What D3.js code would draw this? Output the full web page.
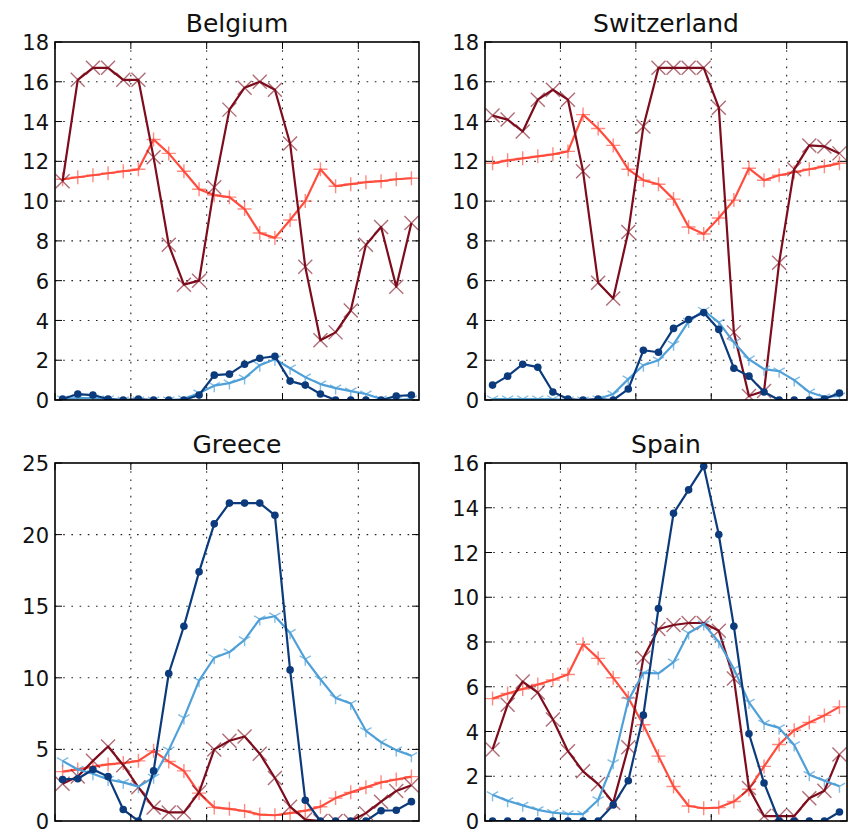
<!DOCTYPE html>
<html><head><meta charset="utf-8">
<script src="https://cdn.jsdelivr.net/npm/d3@7"></script>
<style>body{margin:0;background:#fff} svg{display:block}</style>
</head><body><svg id="c" width="850" height="833"></svg>
<script>
const countries = ["Belgium", "Switzerland", "Greece", "Spain"];
const hours = [0.5,1.5,2.5,3.5,4.5,5.5,6.5,7.5,8.5,9.5,10.5,11.5,12.5,13.5,14.5,15.5,16.5,17.5,18.5,19.5,20.5,21.5,22.5,23.5];
const xTicks = [0, 5, 10, 15, 20];
const yTicksBelgium = [0,2,4,6,8,10,12,14,16,18];
const yTicksSwitzerland = [0,2,4,6,8,10,12,14,16,18];
const yTicksGreece = [0,5,10,15,20,25];
const yTicksSpain = [0,2,4,6,8,10,12,14,16];

const belgiumDarkBlue = [0.05,0.3,0.25,0.05,0,0.05,0,0,0,0.25,1.25,1.3,1.8,2.1,2.2,0.95,0.75,0.3,0,0,0,0,0.2,0.25];
const belgiumLightBlue = [0.05,0.1,0.1,0.05,0,0,0,0,0.05,0.35,0.72,0.85,1.1,1.75,2.05,1.6,1.15,0.8,0.6,0.45,0.3,0.05,0,0.05];
const belgiumRed = [11.1,11.2,11.3,11.4,11.5,11.6,13.1,12.4,11.5,10.6,10.3,10.2,9.6,8.4,8.15,9.05,10.0,11.6,10.75,10.85,10.95,11.0,11.1,11.15];
const belgiumDarkRed = [11.0,16.1,16.7,16.7,16.1,16.1,12.2,7.8,5.8,6.0,10.7,14.6,15.7,16.0,15.6,12.9,6.7,3.0,3.4,4.5,7.8,8.7,5.7,8.9];

const switzerlandDarkBlue = [0.75,1.2,1.8,1.65,0.4,0.05,0,0.05,0,0.55,2.5,2.4,3.6,4.05,4.4,3.55,1.6,1.2,0.4,0,0,0,0.05,0.35];
const switzerlandLightBlue = [0.05,0.05,0.05,0.05,0.05,0,0,0.05,0.3,1.05,1.75,2.0,2.8,3.95,4.5,3.9,2.9,2.05,1.55,1.45,1.0,0.4,0.15,0.2];
const switzerlandRed = [11.9,12.05,12.15,12.25,12.35,12.5,14.35,13.65,12.8,11.6,11.05,10.85,10.1,8.7,8.35,9.15,10.05,11.65,11.05,11.3,11.45,11.6,11.75,11.9];
const switzerlandDarkRed = [14.3,14.1,13.5,15.1,15.6,15.1,11.5,5.9,5.1,8.45,13.75,16.7,16.7,16.7,16.7,14.7,3.4,0.2,0.45,6.9,11.6,12.8,12.75,12.4];

const greeceDarkBlue = [2.9,2.95,3.6,3.1,0.8,0,3.5,10.3,13.6,17.4,20.75,22.2,22.2,22.2,21.35,10.55,1.45,0,0,0,0,0.72,0.75,1.35];
const greeceLightBlue = [4.2,3.6,3.3,2.9,2.7,2.4,3.05,4.95,7.2,9.8,11.4,11.8,12.65,14.1,14.3,13.15,11.3,9.9,8.6,8.2,6.3,5.5,4.95,4.55];
const greeceRed = [3.45,3.6,3.8,3.95,4.05,4.2,4.9,4.15,3.5,1.95,0.95,0.85,0.7,0.45,0.4,0.55,0.72,1.0,1.6,2.0,2.35,2.7,2.9,3.1];
const greeceDarkRed = [2.6,3.1,4.2,5.2,3.9,2.35,0.95,0.6,0.6,2.0,5.0,5.6,5.9,4.7,3.0,1.0,0.1,0,0,0,0.55,1.35,2.1,2.5];

const spainDarkBlue = [0,0,0,0,0,0,0,0,0.72,1.8,4.73,9.5,13.75,14.8,15.85,12.8,8.7,3.9,1.7,0,0,0,0,0.4];
const spainLightBlue = [1.17,0.9,0.7,0.5,0.37,0.32,0.31,0.94,2.6,5.4,6.62,6.6,7.1,8.4,8.8,8.0,6.8,5.3,4.36,4.16,3.4,2.07,1.8,1.55];
const spainRed = [5.47,5.7,5.9,6.1,6.3,6.55,7.9,7.27,6.4,5.5,4.3,2.9,1.54,0.67,0.57,0.6,0.87,1.42,2.44,3.42,4.06,4.4,4.72,5.1];
const spainDarkRed = [3.2,5.2,6.23,5.74,4.54,3.12,2.22,1.65,0.82,3.3,7.3,8.58,8.76,8.85,8.85,8.5,6.37,1.47,0.22,0.22,0.22,1.02,1.35,2.97];

const colors = {darkBlue: "#0b3b7c", lightBlue: "#4fa0d8", red: "#ff4d3d", darkRed: "#7d0d1d"};

const panelData = {
  Belgium: {ticks: yTicksBelgium, series: [belgiumRed, belgiumDarkRed, belgiumLightBlue, belgiumDarkBlue]},
  Switzerland: {ticks: yTicksSwitzerland, series: [switzerlandRed, switzerlandDarkRed, switzerlandLightBlue, switzerlandDarkBlue]},
  Greece: {ticks: yTicksGreece, series: [greeceRed, greeceDarkRed, greeceLightBlue, greeceDarkBlue]},
  Spain: {ticks: yTicksSpain, series: [spainRed, spainDarkRed, spainLightBlue, spainDarkBlue]}
};
const seriesStyle = [
  {color: colors.red, marker: "plus"},
  {color: colors.darkRed, marker: "x"},
  {color: colors.lightBlue, marker: "tri"},
  {color: colors.darkBlue, marker: "circle"}
];

const layout = [
  {x0: 55, x1: 419, y0: 42, y1: 400},
  {x0: 485, x1: 847, y0: 42, y1: 400},
  {x0: 55, x1: 419, y0: 463, y1: 821},
  {x0: 485, x1: 847, y0: 463, y1: 821}
];

const svg = d3.select("#c");
const font = "DejaVu Sans, sans-serif";

countries.forEach((name, pi) => {
  const L = layout[pi];
  const pd = panelData[name];
  const ymax = pd.ticks[pd.ticks.length - 1];
  const x = d3.scaleLinear().domain([0, 24]).range([L.x0, L.x1]);
  const y = d3.scaleLinear().domain([0, ymax]).range([L.y1, L.y0]);
  const g = svg.append("g");
  const clipId = "clip" + pi;
  svg.append("defs").append("clipPath").attr("id", clipId)
    .append("rect").attr("x", L.x0).attr("y", L.y0).attr("width", L.x1 - L.x0).attr("height", L.y1 - L.y0);

  // grid
  const grid = g.append("g").attr("stroke", "#222").attr("stroke-width", 1.1).attr("stroke-dasharray", "1.6,6.6");
  xTicks.filter(t => t > 0).forEach(t => {
    grid.append("line").attr("x1", x(t)).attr("x2", x(t)).attr("y1", L.y0).attr("y2", L.y1);
  });
  pd.ticks.filter(t => t > 0 && t < ymax).forEach(t => {
    grid.append("line").attr("x1", L.x0).attr("x2", L.x1).attr("y1", y(t)).attr("y2", y(t));
  });

  const plot = g.append("g").attr("clip-path", `url(#${clipId})`);
  pd.series.forEach((vals, si) => {
    const st = seriesStyle[si];
    const pts = hours.map((h, i) => [x(h), y(vals[i])]);
    plot.append("path").attr("d", d3.line()(pts)).attr("fill", "none")
      .attr("stroke", st.color).attr("stroke-width", 2.2).attr("stroke-linejoin", "round");
    const mg = plot.append("g");
    pts.forEach(([px, py]) => {
      if (st.marker === "circle") {
        mg.append("circle").attr("cx", px).attr("cy", py).attr("r", 3.8).attr("fill", st.color);
      } else if (st.marker === "plus") {
        const s = 7;
        mg.append("path").attr("d", `M${px - s},${py}H${px + s}M${px},${py - s}V${py + s}`)
          .attr("stroke", st.color).attr("stroke-width", 1.4).attr("opacity", 0.65);
      } else if (st.marker === "x") {
        const s = 7;
        mg.append("path").attr("d", `M${px - s},${py - s}L${px + s},${py + s}M${px - s},${py + s}L${px + s},${py - s}`)
          .attr("stroke", st.color).attr("stroke-width", 1.4).attr("opacity", 0.6);
      } else {
        const s = 6.5;
        mg.append("path").attr("d", `M${px},${py}V${py + s}M${px},${py}L${px - s * 0.866},${py - s * 0.5}M${px},${py}L${px + s * 0.866},${py - s * 0.5}`)
          .attr("stroke", st.color).attr("stroke-width", 1.4).attr("opacity", 0.7);
      }
    });
  });

  // ticks (inside, all sides)
  const tk = g.append("g").attr("stroke", "#000").attr("stroke-width", 1);
  pd.ticks.forEach(t => {
    tk.append("line").attr("x1", L.x0).attr("x2", L.x0 + 7).attr("y1", y(t)).attr("y2", y(t));
    tk.append("line").attr("x1", L.x1).attr("x2", L.x1 - 7).attr("y1", y(t)).attr("y2", y(t));
  });
  xTicks.forEach(t => {
    tk.append("line").attr("x1", x(t)).attr("x2", x(t)).attr("y1", L.y1).attr("y2", L.y1 - 7);
    tk.append("line").attr("x1", x(t)).attr("x2", x(t)).attr("y1", L.y0).attr("y2", L.y0 + 7);
  });

  // frame
  g.append("rect").attr("x", L.x0).attr("y", L.y0).attr("width", L.x1 - L.x0).attr("height", L.y1 - L.y0)
    .attr("fill", "none").attr("stroke", "#000").attr("stroke-width", 1.6);

  // y labels
  const yAxis = d3.axisLeft(y).tickValues(pd.ticks).tickSize(0).tickPadding(6).tickFormat(d3.format("d"));
  const ax = g.append("g").attr("transform", `translate(${L.x0},0)`).call(yAxis);
  ax.select(".domain").remove();
  ax.selectAll("text").attr("font-family", font).attr("font-size", 21).attr("fill", "#111").attr("dy", "0.36em");

  // title
  g.append("text").attr("x", (L.x0 + L.x1) / 2).attr("y", L.y0 - 10).attr("text-anchor", "middle")
    .attr("font-family", font).attr("font-size", 25).attr("fill", "#111").text(name);
});
</script>
</body></html>
